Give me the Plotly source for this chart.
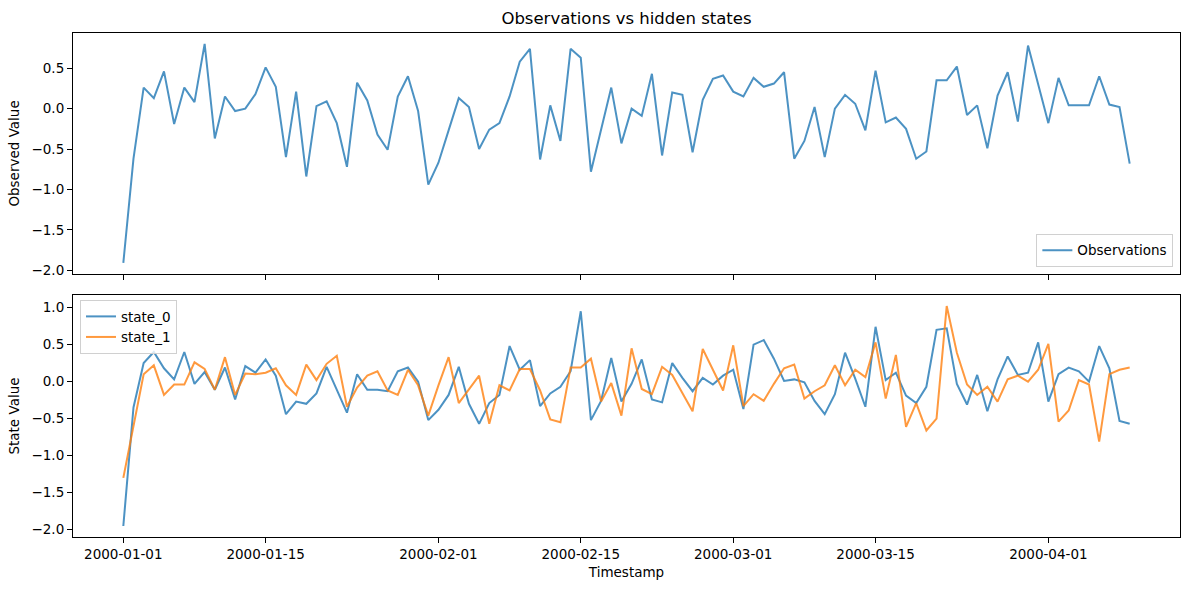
import pandas as pd
import plotly.graph_objects as go
from plotly.subplots import make_subplots

# data
timestamps = pd.date_range("2000-01-01", periods=100, freq="D")

observations = [
    -1.91, -0.62, 0.26, 0.13, 0.46, -0.19, 0.26, 0.08, 0.80, -0.37,
    0.15, -0.03, 0.00, 0.18, 0.51, 0.27, -0.60, 0.21, -0.84, 0.03,
    0.09, -0.18, -0.72, 0.32, 0.10, -0.32, -0.51, 0.15, 0.40, -0.03,
    -0.94, -0.67, -0.27, 0.13, 0.02, -0.50, -0.26, -0.18, 0.15, 0.58,
    0.74, -0.63, 0.04, -0.40, 0.74, 0.63, -0.78, -0.26, 0.26, -0.43,
    0.00, -0.09, 0.43, -0.58, 0.20, 0.17, -0.54, 0.11, 0.37, 0.41,
    0.21, 0.15, 0.38, 0.27, 0.31, 0.45, -0.62, -0.40, 0.02, -0.60,
    0.00, 0.17, 0.06, -0.27, 0.47, -0.17, -0.11, -0.25, -0.62, -0.53,
    0.35, 0.35, 0.52, -0.08, 0.04, -0.49, 0.16, 0.45, -0.16, 0.78,
    0.30, -0.18, 0.38, 0.04, 0.04, 0.04, 0.40, 0.05, 0.02, -0.68,
]

state_0 = [
    -1.95, -0.35, 0.25, 0.40, 0.18, 0.03, 0.40, -0.03, 0.13, -0.11,
    0.19, -0.24, 0.21, 0.12, 0.30, 0.08, -0.44, -0.27, -0.30, -0.16,
    0.20, -0.11, -0.42, 0.10, -0.11, -0.11, -0.13, 0.14, 0.19, 0.00,
    -0.52, -0.38, -0.18, 0.20, -0.30, -0.57, -0.29, -0.18, 0.48, 0.16,
    0.29, -0.33, -0.16, -0.07, 0.14, 0.95, -0.52, -0.26, 0.32, -0.27,
    -0.03, 0.30, -0.24, -0.28, 0.25, 0.05, -0.13, 0.05, -0.04, 0.08,
    0.16, -0.37, 0.50, 0.56, 0.31, 0.01, 0.03, -0.01, -0.26, -0.44,
    -0.17, 0.39, 0.04, -0.34, 0.74, 0.02, 0.12, -0.19, -0.29, -0.07,
    0.70, 0.72, -0.03, -0.31, 0.09, -0.40, 0.03, 0.34, 0.09, 0.12,
    0.53, -0.27, 0.10, 0.19, 0.14, 0.00, 0.48, 0.18, -0.53, -0.57,
]

state_1 = [
    -1.30, -0.58, 0.10, 0.22, -0.18, -0.04, -0.04, 0.26, 0.17, -0.11,
    0.33, -0.18, 0.11, 0.10, 0.12, 0.18, -0.05, -0.18, 0.23, 0.02,
    0.24, 0.35, -0.34, -0.08, 0.08, 0.14, -0.12, -0.18, 0.16, -0.05,
    -0.46, -0.05, 0.33, -0.29, -0.10, 0.08, -0.57, -0.05, -0.12, 0.17,
    0.17, -0.12, -0.51, -0.55, 0.19, 0.19, 0.31, -0.27, -0.02, -0.46,
    0.45, -0.10, -0.17, 0.20, 0.09, -0.15, -0.40, 0.44, 0.16, -0.12,
    0.49, -0.33, -0.17, -0.26, -0.03, 0.18, 0.23, -0.23, -0.13, -0.05,
    0.22, -0.05, 0.16, 0.06, 0.53, -0.23, 0.36, -0.61, -0.29, -0.66,
    -0.50, 1.02, 0.39, -0.04, -0.18, -0.07, -0.27, 0.03, 0.08, 0.00,
    0.16, 0.51, -0.54, -0.39, 0.02, -0.04, -0.81, 0.10, 0.16, 0.19,
]

x_ticks = ["2000-01-01", "2000-01-15", "2000-02-01", "2000-02-15",
           "2000-03-01", "2000-03-15", "2000-04-01"]

BLUE = "rgba(31,119,180,0.8)"
ORANGE = "rgba(255,127,14,0.8)"
FONT = "DejaVu Sans"


def padded(values, frac=0.05):
    lo, hi = min(values), max(values)
    pad = (hi - lo) * frac
    return [lo - pad, hi + pad]


fig = make_subplots(rows=2, cols=1, shared_xaxes=True, vertical_spacing=0.042)

fig.add_trace(go.Scatter(x=timestamps, y=observations, mode="lines", name="Observations",
                         line=dict(color=BLUE, width=2), legend="legend",
                         showlegend=True), row=1, col=1)
fig.add_trace(go.Scatter(x=timestamps, y=state_0, mode="lines", name="state_0",
                         line=dict(color=BLUE, width=2), legend="legend2",
                         showlegend=True), row=2, col=1)
fig.add_trace(go.Scatter(x=timestamps, y=state_1, mode="lines", name="state_1",
                         line=dict(color=ORANGE, width=2), legend="legend2",
                         showlegend=True), row=2, col=1)

day = pd.Timedelta(days=1)
x_range = [timestamps[0] - 4.95 * day, timestamps[-1] + 4.95 * day]

axis_style = dict(showline=True, linecolor="black", linewidth=1.1, mirror=True,
                  showgrid=False, zeroline=False, ticks="outside", ticklen=5,
                  tickwidth=1.1, tickcolor="black",
                  tickfont=dict(family=FONT, size=13.5, color="black"))

fig.update_xaxes(**axis_style, range=x_range, tickvals=x_ticks, tickformat="%Y-%m-%d")
fig.update_xaxes(row=2, col=1, title=dict(text="Timestamp", standoff=6,
                                          font=dict(family=FONT, size=13.5, color="black")))
fig.update_xaxes(row=1, col=1, showticklabels=False)

fig.update_yaxes(**axis_style, tickformat=".1f", dtick=0.5)
fig.update_yaxes(row=1, col=1, range=padded(observations), tick0=-2.0,
                 title=dict(text="Observed Value", standoff=8,
                            font=dict(family=FONT, size=13.5, color="black")))
fig.update_yaxes(row=2, col=1, range=padded(state_0 + state_1), tick0=-2.0,
                 title=dict(text="State Value", standoff=8,
                            font=dict(family=FONT, size=13.5, color="black")))

fig.update_layout(
    width=1189, height=590,
    margin=dict(l=73, r=9, t=33, b=53),
    showlegend=True,
    plot_bgcolor="white", paper_bgcolor="white",
    font=dict(family=FONT, size=13.5, color="black"),
    title=dict(text="Observations vs hidden states", x=0.5, xref="paper",
               y=1 - 18 / 590, yanchor="middle",
               font=dict(family=FONT, size=16.5, color="black")),
    yaxis=dict(domain=[0.522, 1.0]),
    yaxis2=dict(domain=[0.0, 0.480]),
    legend=dict(x=0.994, y=0.536, xanchor="right", yanchor="bottom",
                bgcolor="rgba(255,255,255,0.8)", bordercolor="#d0d0d0", borderwidth=1,
                font=dict(family=FONT, size=13.5)),
    legend2=dict(x=0.0063, y=0.470, xanchor="left", yanchor="top",
                 bgcolor="rgba(255,255,255,0.8)", bordercolor="#d0d0d0", borderwidth=1,
                 font=dict(family=FONT, size=13.5)),
)

# drop the browser's default body margin so the figure sits at the page corner
fig.write_html("out.html", config={"displayModeBar": False},
               post_script="document.body.style.margin='0';")
